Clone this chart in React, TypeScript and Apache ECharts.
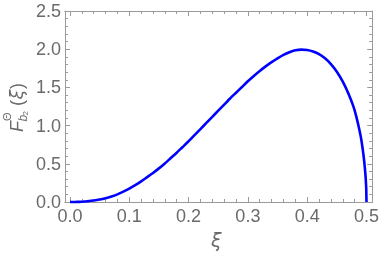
import React, { useEffect, useRef } from "react";
import * as echarts from "echarts";

const xiValues = [0, 0.01, 0.02, 0.03, 0.04, 0.05, 0.06, 0.07, 0.08, 0.09, 0.1, 0.11, 0.12, 0.13, 0.14, 0.15, 0.16, 0.17, 0.18, 0.19, 0.2, 0.21, 0.22, 0.23, 0.24, 0.25, 0.26, 0.27, 0.28, 0.29, 0.3, 0.31, 0.32, 0.33, 0.34, 0.35, 0.36, 0.37, 0.38, 0.39, 0.4, 0.41, 0.42, 0.43, 0.44, 0.45, 0.46, 0.47, 0.48, 0.49, 0.495, 0.498, 0.4995, 0.5];
const fValues = [0, 0.001, 0.004, 0.01, 0.019, 0.032, 0.05, 0.073, 0.1, 0.135, 0.175, 0.22, 0.27, 0.325, 0.38, 0.44, 0.505, 0.575, 0.645, 0.72, 0.795, 0.875, 0.955, 1.035, 1.115, 1.195, 1.275, 1.355, 1.43, 1.505, 1.58, 1.65, 1.715, 1.775, 1.83, 1.88, 1.925, 1.96, 1.985, 1.995, 1.99, 1.97, 1.935, 1.88, 1.805, 1.705, 1.575, 1.41, 1.2, 0.87, 0.61, 0.38, 0.19, 0];
const xMajorTicks = [0, 0.1, 0.2, 0.3, 0.4, 0.5];
const xMinorTicks = [0.02, 0.04, 0.06, 0.08, 0.12, 0.14, 0.16, 0.18, 0.22, 0.24, 0.26, 0.28, 0.32, 0.34, 0.36, 0.38, 0.42, 0.44, 0.46, 0.48];
const yMin = 0;
const yMax = 2.5;
const yStep = 0.5;
const xMin = -0.0084;
const xMax = 0.5096;

const FRAME = "#9a9a9a";
const LABEL = "#6a6a6a";

export default function App() {
  const ref = useRef<HTMLDivElement>(null);
  useEffect(() => {
    if (!ref.current) return;
    const chart = echarts.init(ref.current, null, { renderer: "svg" });
    const data = xiValues.map((x, i) => [x, fValues[i]]);
    const xBase = (position: string, ticks: number[], len: number, labels: boolean) => ({
      type: "value",
      position,
      min: xMin,
      max: xMax,
      splitLine: { show: false },
      axisLine: { show: true, onZero: false, lineStyle: { color: FRAME, width: 1 } },
      axisTick: { show: true, inside: true, length: len, customValues: ticks, lineStyle: { color: FRAME } },
      axisLabel: labels
        ? {
            show: true,
            customValues: xMajorTicks,
            formatter: (v: number) => v.toFixed(1),
            color: LABEL,
            fontSize: 18,
            fontFamily: "Liberation Sans",
            margin: 5,
          }
        : { show: false },
    });
    const yBase = (position: string, labels: boolean) => ({
      type: "value",
      position,
      min: yMin,
      max: yMax,
      interval: yStep,
      splitLine: { show: false },
      axisLine: { show: true, onZero: false, lineStyle: { color: FRAME, width: 1 } },
      axisTick: { show: true, inside: true, length: 5, lineStyle: { color: FRAME } },
      minorTick: { show: true, splitNumber: 5, length: 3, lineStyle: { color: FRAME } },
      axisLabel: labels
        ? {
            show: true,
            formatter: (v: number) => v.toFixed(1),
            color: LABEL,
            fontSize: 18,
            fontFamily: "Liberation Sans",
            margin: 4,
          }
        : { show: false },
    });
    const t = (text: string, x: number, y: number, fontSize: number, italic = false, family = "Liberation Sans") => ({
      type: "text",
      x,
      y,
      style: {
        text,
        fontSize,
        fontStyle: italic ? "italic" : "normal",
        fontFamily: family,
        fill: LABEL,
        align: "left",
        verticalAlign: "middle",
      },
    });
    chart.setOption({
      animation: false,
      grid: { left: 65, right: 9, top: 11, bottom: 56, containLabel: false },
      xAxis: [
        xBase("bottom", xMajorTicks, 5, true),
        xBase("bottom", xMinorTicks, 3, false),
        xBase("top", xMajorTicks, 5, false),
        xBase("top", xMinorTicks, 3, false),
      ],
      yAxis: [yBase("left", true), yBase("right", false)],
      series: [
        {
          type: "line",
          xAxisIndex: 0,
          yAxisIndex: 0,
          data,
          showSymbol: false,
          smooth: 0.2,
          lineStyle: { color: "#0000ff", width: 2.6 },
          clip: false,
        },
      ],
      graphic: [
        {
          type: "text",
          left: 211,
          top: 230,
          style: { text: "ξ", fontSize: 19, fontStyle: "italic", fontFamily: "DejaVu Sans", fill: LABEL },
        },
        {
          type: "group",
          x: 24,
          y: 107,
          rotation: Math.PI / 2,
          children: [
            t("F", -25, -7.3, 18, true),
            t("Θ", -14, -17, 11),
            t("b", -14.5, -1.2, 12, true),
            t("2", -8.5, 1.8, 8),
            t("(", 1, -7.3, 18),
            t("ξ", 7.5, -7.3, 18, true, "DejaVu Sans"),
            t(")", 18, -7.3, 18),
          ],
        },
      ],
    });
    return () => chart.dispose();
  }, []);
  return <div ref={ref} style={{ position: "fixed", left: 0, top: 0, width: 382, height: 258 }} />;
}
